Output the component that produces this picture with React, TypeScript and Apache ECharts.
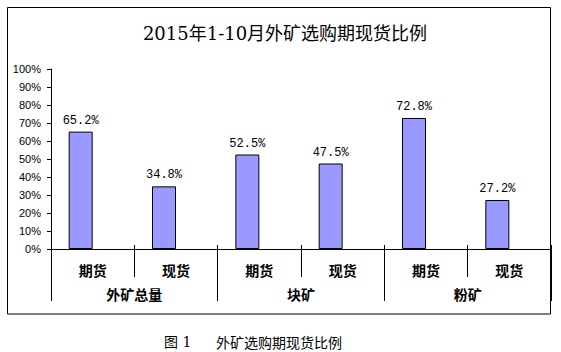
import React, { useEffect, useRef } from "react";
import * as echarts from "echarts";

const titleText = "2015年1-10月外矿选购期现货比例";
const captionLabel = "图 1";
const captionText = "外矿选购期现货比例";
const subCategories = ["期货", "现货", "期货", "现货", "期货", "现货"];
const groupCategories = ["外矿总量", "块矿", "粉矿"];
const ratioValues = [65.2, 34.8, 52.5, 47.5, 72.8, 27.2];
const yTickValues = [0, 10, 20, 30, 40, 50, 60, 70, 80, 90, 100];

export default function App() {
  const ref = useRef<HTMLDivElement>(null);
  useEffect(() => {
    if (!ref.current) return;
    const chart = echarts.init(ref.current, null, { renderer: "svg" });
    const sans = "'Noto Sans CJK SC', 'Liberation Sans', sans-serif";
    const serif = "'DejaVu Serif', 'Noto Sans CJK SC', serif";
    chart.setOption({
      animation: false,
      backgroundColor: "#fff",
      title: {
        text: titleText,
        left: 280,
        textAlign: "center",
        top: 19,
        textStyle: { fontFamily: serif, fontSize: 18, fontWeight: "normal", color: "#000" },
      },
      graphic: [
        {
          type: "rect",
          shape: { x: 7.5, y: 7.5, width: 543, height: 306.5 },
          style: { fill: "none", stroke: "#000", lineWidth: 1 },
          silent: true,
        },
        {
          type: "text",
          x: 164,
          y: 342,
          style: {
            text: captionLabel,
            fontFamily: serif,
            fontSize: 14,
            fill: "#000",
            verticalAlign: "middle",
          },
        },
        {
          type: "text",
          x: 216,
          y: 342,
          style: {
            text: captionText,
            fontFamily: sans,
            fontSize: 14,
            fill: "#000",
            verticalAlign: "middle",
          },
        },
      ],
      grid: { left: 51, right: 10, top: 69, bottom: 103, containLabel: false },
      xAxis: [
        {
          type: "category",
          data: subCategories,
          position: "bottom",
          axisLine: { show: true, lineStyle: { color: "#000", width: 1 } },
          axisTick: { show: true, interval: 0, length: 28, lineStyle: { color: "#000" } },
          axisLabel: {
            interval: 0,
            margin: 14,
            fontFamily: sans,
            fontSize: 14,
            fontWeight: "bold",
            color: "#000",
          },
        },
        {
          type: "category",
          data: groupCategories,
          position: "bottom",
          axisLine: { show: false },
          axisTick: { show: true, interval: 0, length: 52, lineStyle: { color: "#000" } },
          axisLabel: {
            interval: 0,
            margin: 38,
            fontFamily: sans,
            fontSize: 14,
            fontWeight: "bold",
            color: "#000",
          },
        },
        {
          type: "category",
          data: subCategories,
          position: "bottom",
          axisLine: { show: false },
          axisTick: { show: true, inside: true, interval: 0, length: 4, lineStyle: { color: "#000" } },
          axisLabel: { show: false },
        },
      ],
      yAxis: {
        type: "value",
        min: yTickValues[0],
        max: yTickValues[yTickValues.length - 1],
        interval: 10,
        axisLine: { show: true, lineStyle: { color: "#000" } },
        axisTick: { show: true, length: 4, lineStyle: { color: "#000" } },
        splitLine: { show: false },
        axisLabel: {
          margin: 10,
          formatter: "{value}%",
          fontFamily: "'Liberation Sans', Arial, sans-serif",
          fontSize: 11,
          color: "#000",
        },
      },
      series: [
        {
          type: "bar",
          xAxisIndex: 0,
          data: ratioValues,
          barWidth: 24,
          barGap: "0%",
          itemStyle: { color: "#9999FF", borderColor: "#000", borderWidth: 1 },
          label: {
            show: true,
            position: "top",
            distance: 5,
            formatter: (p: any) => p.value.toFixed(1) + "%",
            fontFamily: "'Liberation Mono', 'DejaVu Sans Mono', monospace",
            fontSize: 12,
            color: "#000",
          },
        },
        {
          type: "bar",
          xAxisIndex: 0,
          data: ratioValues.map(() => "-"),
          barWidth: 24,
          barGap: "0%",
        },
      ],
    });
    return () => chart.dispose();
  }, []);
  return (
    <div
      ref={ref}
      style={{ position: "fixed", left: 0, top: 0, width: 561, height: 352 }}
    />
  );
}
